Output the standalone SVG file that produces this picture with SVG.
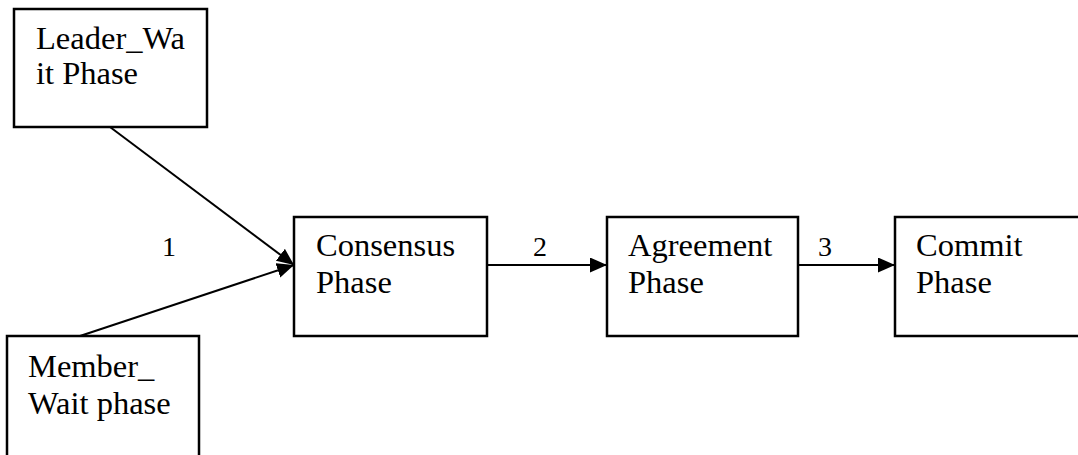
<svg xmlns="http://www.w3.org/2000/svg" width="1078" height="455" viewBox="0 0 1078 455">
  <style>
    .box { fill: #ffffff; stroke: #000000; stroke-width: 2.5; }
    .txt { font-family: "Liberation Serif", "Times New Roman", serif; font-size: 32.5px; fill: #000000; }
    .num { font-family: "Liberation Serif", "Times New Roman", serif; font-size: 28px; fill: #000000; }
    .edge { stroke: #000000; stroke-width: 2; fill: none; marker-end: url(#arrow); }
  </style>
  <defs>
    <marker id="arrow" markerUnits="userSpaceOnUse" markerWidth="20" markerHeight="16" refX="17" refY="7.5" orient="auto">
      <path d="M0,0 L17,7.5 L0,15 z" fill="#000000"/>
    </marker>
  </defs>
  <rect width="1078" height="455" fill="#ffffff"/>

  <!-- connectors -->
  <g id="connectors">
    <line class="edge" x1="110" y1="127" x2="294" y2="265"/>
    <line class="edge" x1="80" y1="336" x2="294" y2="265"/>
    <line class="edge" x1="487" y1="265" x2="607" y2="265"/>
    <line class="edge" x1="798" y1="265" x2="895" y2="265"/>
    <text class="num" x="162" y="256">1</text>
    <text class="num" x="533" y="256">2</text>
    <text class="num" x="818" y="256">3</text>
  </g>

  <g id="leader-wait">
    <rect class="box" x="14" y="9" width="193" height="118"/>
    <text class="txt" x="36" y="49">Leader_Wa</text>
    <text class="txt" x="36" y="84">it Phase</text>
  </g>

  <g id="member-wait">
    <rect class="box" x="7" y="336" width="192" height="130"/>
    <text class="txt" x="28" y="377">Member_</text>
    <text class="txt" x="28" y="414">Wait phase</text>
  </g>

  <g id="consensus">
    <rect class="box" x="294" y="217" width="193" height="119"/>
    <text class="txt" x="316" y="256">Consensus</text>
    <text class="txt" x="316" y="293">Phase</text>
  </g>

  <g id="agreement">
    <rect class="box" x="607" y="217" width="191" height="119"/>
    <text class="txt" x="628" y="256">Agreement</text>
    <text class="txt" x="628" y="293">Phase</text>
  </g>

  <g id="commit">
    <rect class="box" x="895" y="217" width="200" height="119"/>
    <text class="txt" x="916" y="256">Commit</text>
    <text class="txt" x="916" y="293">Phase</text>
  </g>
</svg>
